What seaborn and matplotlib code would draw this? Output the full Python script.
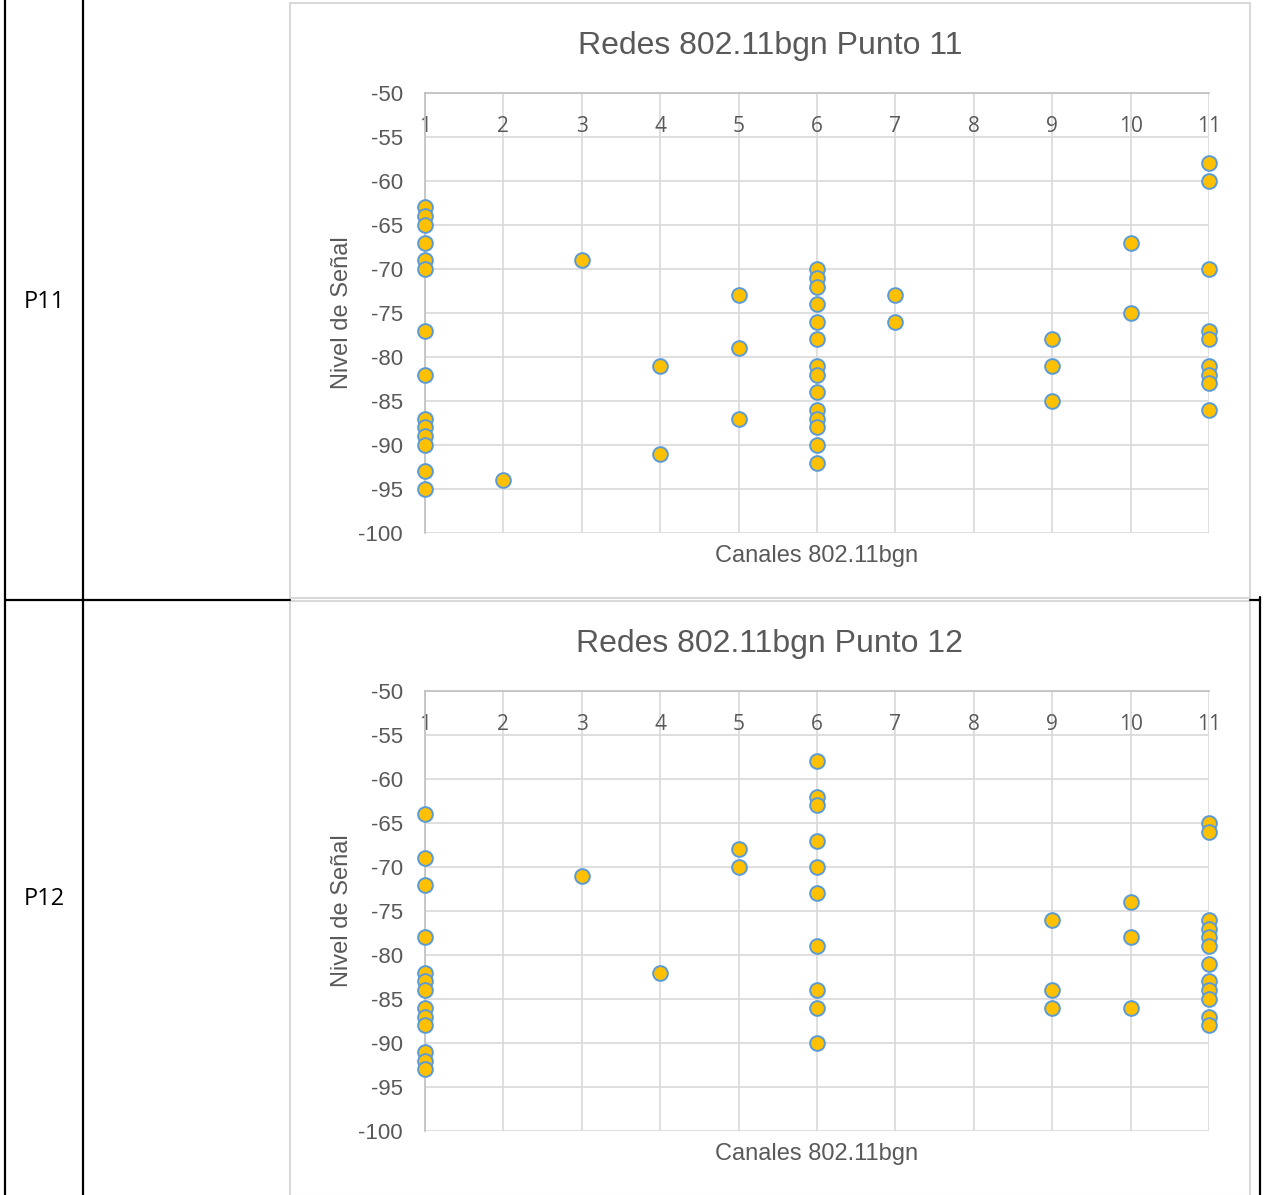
import numpy as np
import pandas as pd
import matplotlib
matplotlib.use("Agg")
import matplotlib.pyplot as plt
import seaborn as sns
from matplotlib.patches import Rectangle
from matplotlib.lines import Line2D

# ejes
canales = [1, 2, 3, 4, 5, 6, 7, 8, 9, 10, 11]
niveles_ticks = [-100, -95, -90, -85, -80, -75, -70, -65, -60, -55, -50]

# Punto 11
p11_canal = [1, 1, 1, 1, 1, 1, 1, 1, 1, 1, 1, 1, 1, 1,
             2, 3, 4, 4, 5, 5, 5,
             6, 6, 6, 6, 6, 6, 6, 6, 6, 6, 6, 6, 6, 6,
             7, 7, 9, 9, 9, 10, 10,
             11, 11, 11, 11, 11, 11, 11, 11, 11]
p11_nivel = [-63, -64, -65, -67, -69, -70, -77, -82, -87, -88, -89, -90, -93, -95,
             -94, -69, -81, -91, -73, -79, -87,
             -70, -71, -72, -74, -76, -78, -81, -82, -84, -86, -87, -88, -90, -92,
             -73, -76, -78, -81, -85, -67, -75,
             -58, -60, -70, -77, -78, -81, -82, -83, -86]

# Punto 12
p12_canal = [1, 1, 1, 1, 1, 1, 1, 1, 1, 1, 1, 1, 1,
             3, 4, 5, 5,
             6, 6, 6, 6, 6, 6, 6, 6, 6, 6,
             9, 9, 9, 10, 10, 10,
             11, 11, 11, 11, 11, 11, 11, 11, 11, 11, 11, 11]
p12_nivel = [-64, -69, -72, -78, -82, -83, -84, -86, -87, -88, -91, -92, -93,
             -71, -82, -68, -70,
             -58, -62, -63, -67, -70, -73, -79, -84, -86, -90,
             -76, -84, -86, -74, -78, -86,
             -65, -66, -76, -77, -78, -79, -81, -83, -84, -85, -87, -88]

W, H = 1265, 1195
GRIS = "#595959"

sns.set_style("white")
plt.rcParams["font.family"] = ["Liberation Sans", "DejaVu Sans"]
plt.rcParams["axes.unicode_minus"] = False

fig = plt.figure(figsize=(W / 100, H / 100), dpi=100)


def fx(x):
    return x / W


def fy(y):
    return 1 - y / H


def grafico(top, canal, nivel, titulo):
    # marco gris del grafico
    fig.patches.append(Rectangle((fx(290), fy(top + 505)), fx(960), 595 / H,
                                 transform=fig.transFigure, fill=False,
                                 edgecolor="#D9D9D9", linewidth=1.5))
    ax = fig.add_axes([fx(425), fy(top + 440), fx(1209 - 425), 440 / H])
    df = pd.DataFrame({"canal": canal, "nivel": nivel})
    sns.scatterplot(data=df, x="canal", y="nivel", ax=ax, s=112,
                    color="#FFC000", edgecolor="#5B9BD5", linewidth=1.4,
                    zorder=3, clip_on=False)
    ax.set_xlim(1, 11)
    ax.set_ylim(-100, -50)
    ax.set_xticks(canales)
    ax.set_yticks(niveles_ticks)
    ax.set_axisbelow(True)
    ax.grid(True, color="#D9D9D9", linewidth=1.2)
    for s in ["bottom", "right"]:
        ax.spines[s].set_visible(False)
    for s in ["top", "left"]:
        ax.spines[s].set_color("#BFBFBF")
        ax.spines[s].set_linewidth(1.2)
    ax.xaxis.tick_top()
    ax.tick_params(axis="x", length=0, pad=-32, labelsize=15, labelcolor=GRIS)
    for t in ax.get_xticklabels():
        t.set_fontfamily("Open Sans")
    ax.tick_params(axis="y", length=0, pad=16, labelsize=16, labelcolor=GRIS)
    ax.set_xlabel("Canales 802.11bgn", fontsize=17, color=GRIS, labelpad=8.5)
    ax.set_ylabel("Nivel de Señal", fontsize=17, color=GRIS, labelpad=4)
    fig.text(fx(770), fy(top - 47), titulo, ha="center", va="center",
             fontsize=23, color=GRIS)
    return ax


grafico(93, p11_canal, p11_nivel, "Redes 802.11bgn Punto 11")
grafico(691, p12_canal, p12_nivel, "Redes 802.11bgn Punto 12")

# lineas de la tabla
tabla = [((5, 5), (0, 1195)), ((83, 83), (0, 1195)),
         ((5, 290), (600, 600)), ((1250, 1260), (600, 600)),
         ((1260, 1260), (597, 1195))]
for xs, ys in tabla:
    fig.lines.append(Line2D([fx(xs[0]), fx(xs[1])], [fy(ys[0]), fy(ys[1])],
                            transform=fig.transFigure, color="black", linewidth=1.6))

fig.text(fx(44), fy(302), "P11", ha="center", va="center", fontsize=17,
         family="Open Sans", color="black")
fig.text(fx(44), fy(899), "P12", ha="center", va="center", fontsize=17,
         family="Open Sans", color="black")

fig.savefig("out.png", dpi=100)
